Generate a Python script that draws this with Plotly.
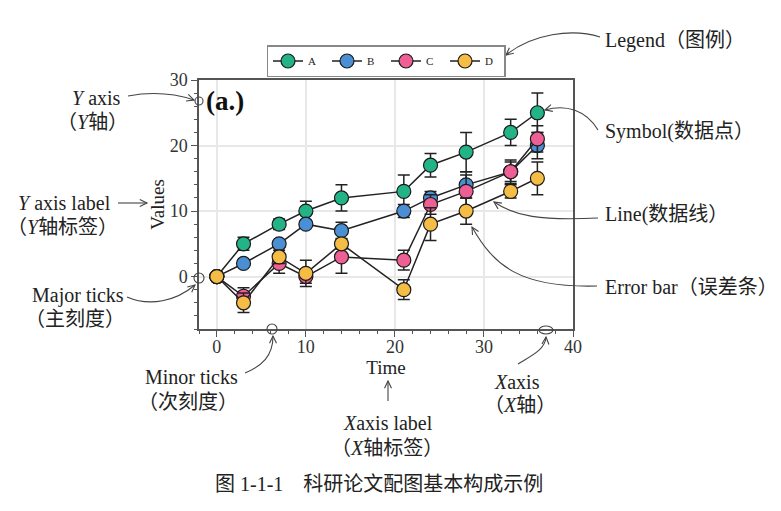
import plotly.graph_objects as go
import math

# ---------------- data ----------------
time = [0, 3, 7, 10, 14, 21, 24, 28, 33, 36]
series_names = ["A", "B", "C", "D"]
values_A = [0, 5, 8, 10, 12, 13, 17, 19, 22, 25]
values_B = [0, 2, 5, 8, 7, 10, 12, 14, 16, 20]
values_C = [0, -3, 2, 0, 3, 2.5, 11, 13, 16, 21]
values_D = [0, -4, 3, 0.5, 5, -2, 8, 10, 13, 15]
err_A = [0, 1, 0.8, 1.5, 2, 2.5, 1.8, 3, 2, 3]
err_B = [0, 0.5, 0.5, 0.5, 1.3, 1, 1, 2, 1.5, 2]
err_C = [0, 1.3, 1.5, 1, 2.5, 1.5, 1.5, 2.5, 1.8, 2]
err_D = [0, 1.5, 1, 2, 0.8, 1.5, 2.5, 2, 1, 2.5]
colors = ["#22b387", "#4a8fd4", "#ee5f95", "#f5bd45"]

x_ticks = [0, 10, 20, 30, 40]
y_ticks = [0, 10, 20, 30]

SERIF = "'Liberation Serif', 'Times New Roman', 'Noto Sans CJK SC', serif"
MIX = "'Liberation Serif', 'Noto Sans CJK SC', serif"

W, H = 781, 511
L, R, T, B = 199, 208, 80, 182
PW, PH = W - L - R, H - T - B


def px(xp):
    return (xp - L) / PW


def py(yp):
    return (H - B - yp) / PH


fig = go.Figure()
for name, vals, errs, col in zip(series_names,
                                 [values_A, values_B, values_C, values_D],
                                 [err_A, err_B, err_C, err_D], colors):
    fig.add_trace(go.Scatter(
        x=time, y=vals, name=name, mode="lines+markers",
        line=dict(color="#222222", width=1.5),
        marker=dict(color=col, size=14, line=dict(color="#1a1a1a", width=1.2)),
        error_y=dict(type="data", array=errs, visible=True, color="#222222",
                     thickness=1.5, width=6),
    ))

axis_common = dict(
    showline=True, mirror=True, linecolor="#555555", linewidth=1.5,
    ticks="outside", ticklen=6, tickwidth=1.3, tickcolor="#555555",
    showgrid=True, gridcolor="#e8e8e8", gridwidth=1.5, zeroline=False,
    tickfont=dict(family=SERIF, size=18, color="#333333"),
    minor=dict(dtick=2, ticks="outside", ticklen=3, tickwidth=1, tickcolor="#555555", showgrid=False),
)
fig.update_xaxes(range=[-2, 40], tickvals=x_ticks, ticklabelstandoff=-5, **axis_common,
                 title=dict(text="Time", standoff=2, font=dict(family=SERIF, size=19, color="#222")))
fig.update_yaxes(range=[-8, 30], tickvals=y_ticks, **axis_common,
                 title=dict(text="Values", standoff=0, font=dict(family=SERIF, size=19, color="#222")))

fig.update_layout(
    width=W, height=H, margin=dict(l=L, r=R, t=T, b=B, autoexpand=False),
    paper_bgcolor="white", plot_bgcolor="white",
    legend=dict(orientation="h", x=0.5, xanchor="center", y=py(45), yanchor="top",
                bordercolor="#888888", borderwidth=1.5, bgcolor="white",
                font=dict(family=SERIF, size=11, color="#222"),
                entrywidth=14, entrywidthmode="pixels",
                itemwidth=30, tracegroupgap=0),
)

ann_font = dict(family=MIX, size=20, color="#222222")
texts = [
    ("Legend（图例）", 603, 40, "left"),
    ("Symbol(数据点）", 603, 131, "left"),
    ("Line(数据线）", 603, 214, "left"),
    ("Error bar（误差条）", 603, 287, "left"),
    ("<i>Y</i> axis", 96, 98, "center"),
    ("（<i>Y</i>轴）", 93, 122, "center"),
    ("<i>Y</i> axis label", 64, 203, "center"),
    ("（<i>Y</i>轴标签）", 62, 227, "center"),
    ("Major ticks", 78, 295, "center"),
    ("（主刻度）", 75, 319, "center"),
    ("Minor ticks", 191, 377, "center"),
    ("（次刻度）", 188, 402, "center"),
    ("<i>X</i>axis label", 388, 423, "center"),
    ("（<i>X</i>轴标签）", 387, 448, "center"),
    ("<i>X</i>axis", 517, 382, "center"),
    ("（<i>X</i>轴）", 520, 405, "center"),
    ("图 1-1-1　科研论文配图基本构成示例", 379, 484, "center"),
]
for t, x0, y0, anc in texts:
    fig.add_annotation(text=t, x=px(x0), y=py(y0), xref="paper", yref="paper",
                       xanchor=anc, yanchor="middle", showarrow=False, font=ann_font)

fig.add_annotation(text="<b>(a.)</b>", x=px(204), y=py(101), xref="paper", yref="paper",
                   xanchor="left", yanchor="middle", showarrow=False,
                   font=dict(family=SERIF, size=27, color="#111"))

# ---------------- curved arrows ----------------
shapes = []
LC = "#444444"


def curve(p0, c1, c2, p3, head=True):
    path = "M {},{} C {},{} {},{} {},{}".format(px(p0[0]), py(p0[1]), px(c1[0]), py(c1[1]),
                                               px(c2[0]), py(c2[1]), px(p3[0]), py(p3[1]))
    shapes.append(dict(type="path", path=path, xref="paper", yref="paper",
                       line=dict(color=LC, width=1.1), layer="above"))
    if head:
        dx, dy = p3[0] - c2[0], p3[1] - c2[1]
        ang = math.atan2(dy, dx)
        ln = 8
        pts = []
        for s in (1, -1):
            a = ang + math.pi - s * 0.45
            pts.append((p3[0] + ln * math.cos(a), p3[1] + ln * math.sin(a)))
        hp = "M {},{} L {},{} L {},{}".format(px(pts[0][0]), py(pts[0][1]), px(p3[0]), py(p3[1]),
                                            px(pts[1][0]), py(pts[1][1]))
        shapes.append(dict(type="path", path=hp, xref="paper", yref="paper",
                           line=dict(color=LC, width=1.1), layer="above"))


def ring(cx, cy, rx, ry):
    shapes.append(dict(type="circle", xref="paper", yref="paper",
                       x0=px(cx - rx), x1=px(cx + rx), y0=py(cy + ry), y1=py(cy - ry),
                       line=dict(color=LC, width=1.1), layer="above"))


curve((600, 37), (572, 28), (532, 34), (506, 55))
curve((598, 130), (586, 110), (566, 104), (545, 110))
curve((598, 218), (540, 221), (515, 216), (494, 202))
curve((597, 286), (520, 288), (494, 266), (472, 227))
curve((128, 96), (155, 91), (176, 94), (194, 100))
curve((118, 203), (128, 203), (138, 203), (147, 203))
curve((127, 297), (150, 307), (176, 301), (195, 285))
curve((245, 373), (262, 366), (273, 356), (273, 336))
curve((388, 401), (388, 394), (388, 388), (388, 381))
curve((518, 364), (531, 356), (545, 350), (546, 337))
ring(199, 101, 4, 4)
ring(199, 278, 5, 5)
ring(272, 329, 5, 5)
ring(546, 330, 7, 4)

fig.update_layout(shapes=shapes)
fig.write_html("out.html")
